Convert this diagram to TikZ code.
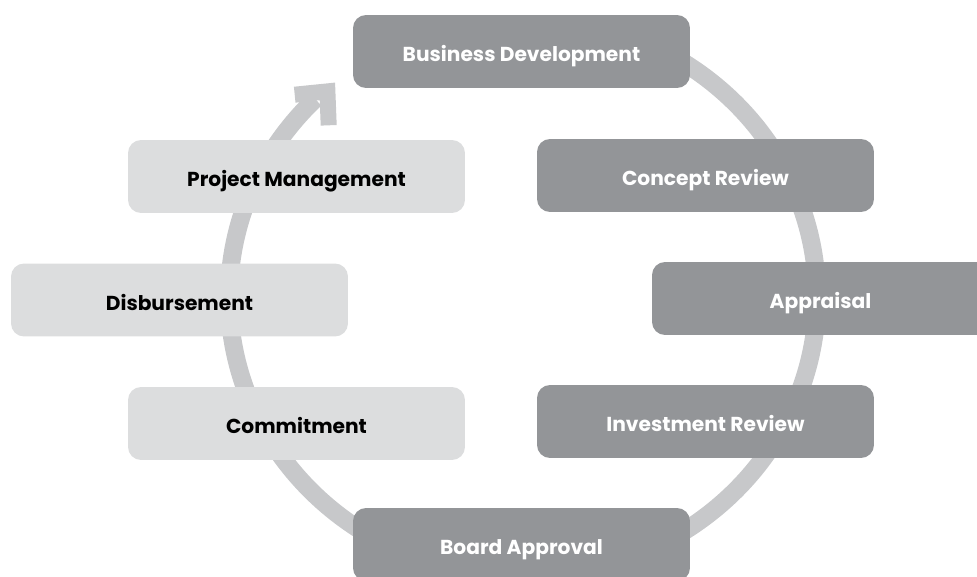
\documentclass[tikz,border=0pt]{standalone}
\usepackage{fontspec}
\setmainfont{Poppins}
\usepackage{xcolor}
\usepackage{tikz}
\usetikzlibrary{calc}

\definecolor{boxdark}{HTML}{939598}
\definecolor{boxlight}{HTML}{DCDDDE}
\definecolor{ringgray}{HTML}{C7C8CA}

\begin{document}
\begin{tikzpicture}[x=0.02cm,y=0.02cm,
    stage/.style={rounded corners=0.26cm, minimum width=6.74cm, minimum height=1.46cm,
      inner sep=0pt, text height=11.6pt, text depth=0pt,
      font=\fontsize{11.5}{13}\selectfont\bfseries},
    darkbox/.style={stage, fill=boxdark, text=white},
    lightbox/.style={stage, fill=boxlight, text=black},
    ring/.style={draw=ringgray, line width=0.36cm}]
      \useasboundingbox (0,0) rectangle (977,576);%
      \clip (0,0) rectangle (977,576);%

      \coordinate (O) at (523,279);%

      % the cycle, running clockwise and ending in the head
      \draw[ring, line cap=butt] (O) ++(62:5.88cm and 5.6cm)
        arc[start angle=62, end angle=-225, x radius=5.88cm, y radius=5.6cm];%
      \coordinate (H_a) at (294.7,481.3); \coordinate (H_c) at (327.4,484.6);%
      \coordinate (H_b) at (328.7,450.7);%
      \draw[draw=ringgray, line width=0.32cm, line cap=butt, line join=miter]
        (H_a) -- (H_c) -- (H_b);%

      \foreach \nm/\px/\py/\txt in {busdev/521.5/524.5/Business Development,
          concept/705.5/400.5/Concept Review, apprs/820.5/277.5/Appraisal,
          invrev/705.5/154.5/Investment Review, board/521.5/31.5/Board Approval}%
        { \node[darkbox] (\nm) at (\px,\py) {\txt}; }%

      \foreach \nm/\px/\py/\txt in {commit/296.5/152.5/Commitment,
          disb/179.5/276/Disbursement, projman/296.5/399.5/Project Management}%
        { \node[lightbox] (\nm) at (\px,\py) {\txt}; }%
    \end{tikzpicture}
\end{document}
